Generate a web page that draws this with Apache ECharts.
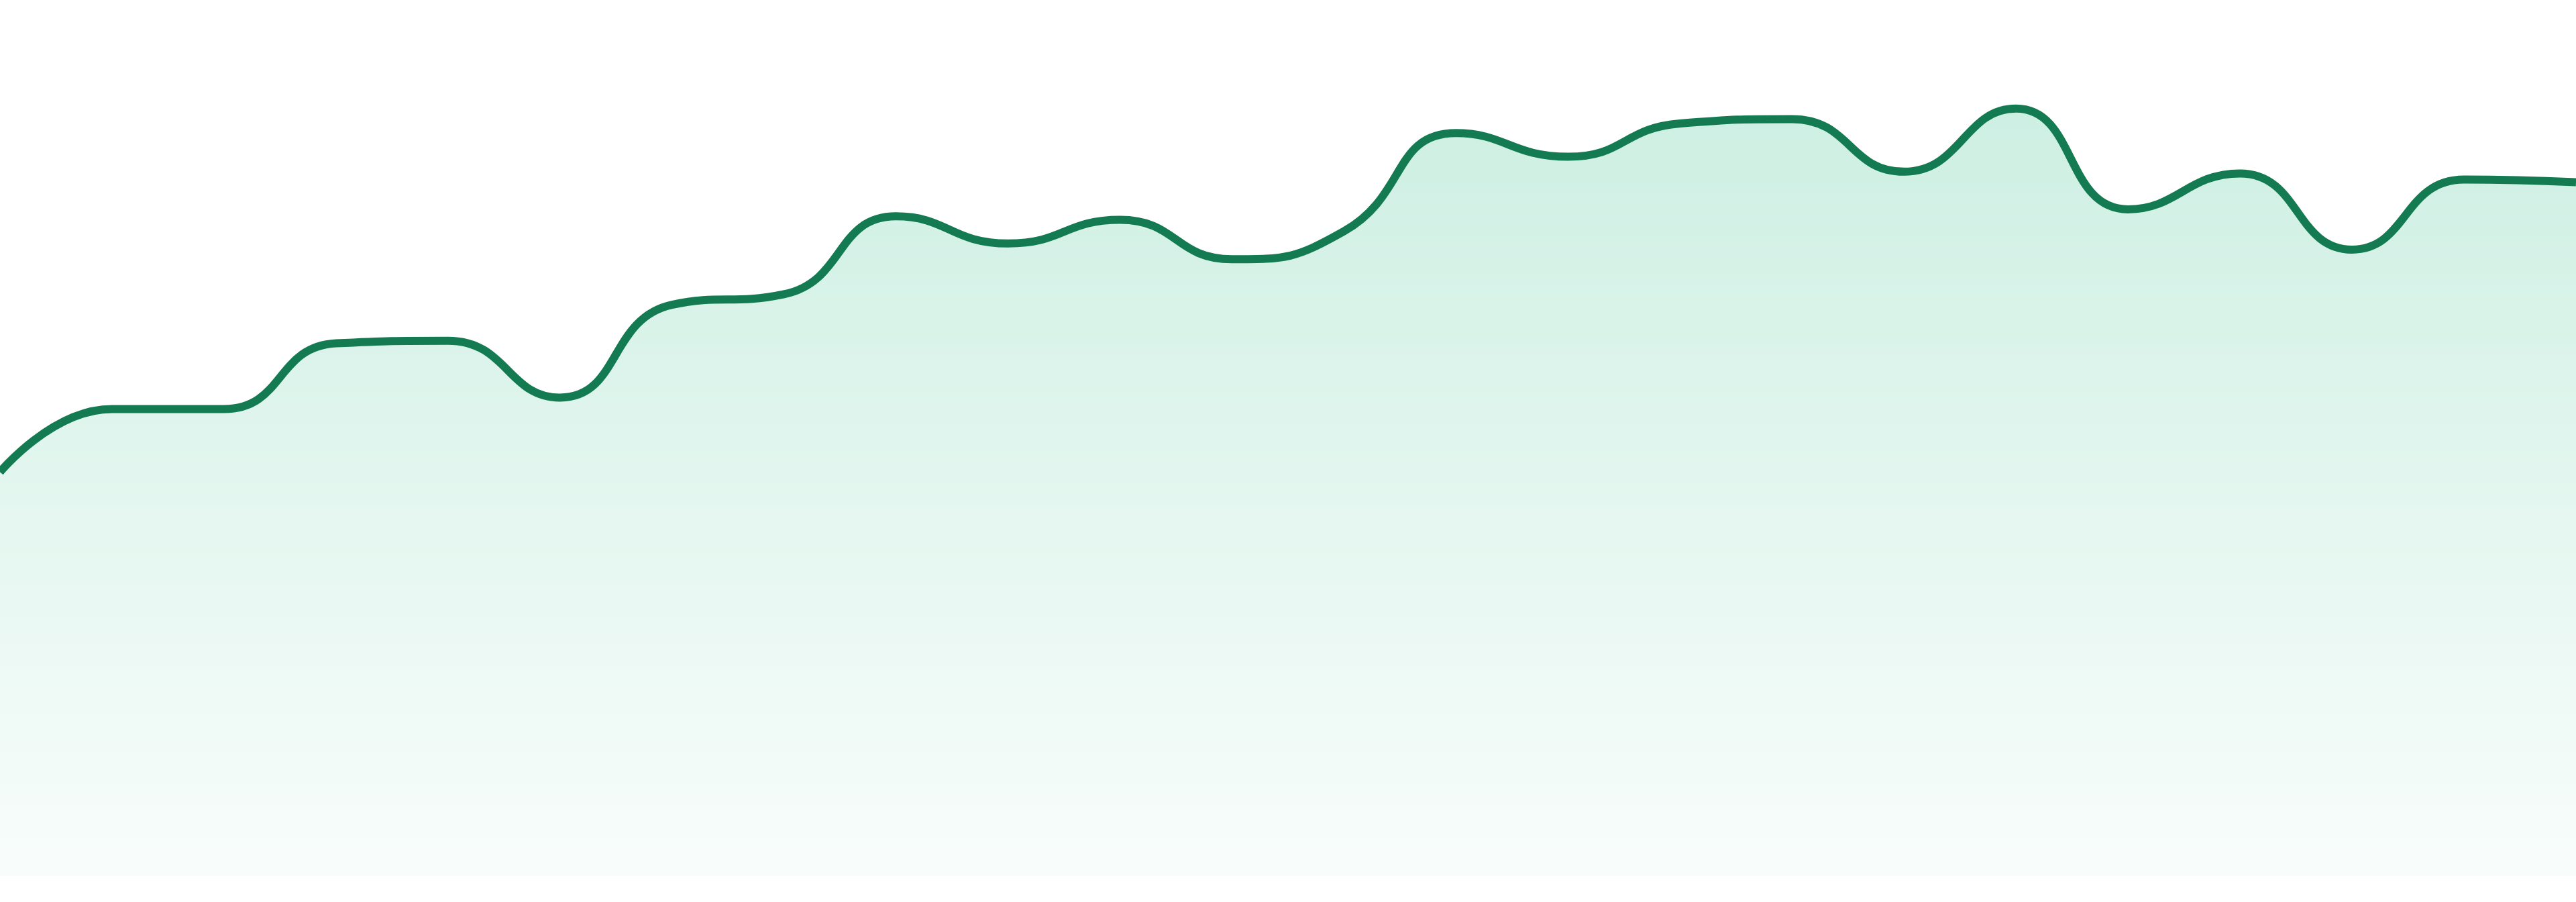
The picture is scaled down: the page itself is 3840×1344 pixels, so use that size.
<!DOCTYPE html>
<html>
<head>
<meta charset="utf-8">
<style>
  html, body { margin: 0; padding: 0; background: #ffffff; width: 100%; height: 100%; overflow: hidden; }
  #chart { width: 100vw; height: 100vh; }
</style>
<script src="https://cdn.jsdelivr.net/npm/echarts@6/dist/echarts.min.js"></script>
</head>
<body>
<div id="chart"></div>
<script>
const categories = ['00:00','01:00','02:00','03:00','04:00','05:00','06:00','07:00','08:00','09:00','10:00','11:00',
                    '12:00','13:00','14:00','15:00','16:00','17:00','18:00','19:00','20:00','21:00','22:00','23:00'];
const values = [46.1, 53.3, 53.3, 60.8, 61.1, 54.6, 65.2, 66.4, 75.3, 72.2, 74.9, 70.4,
                73.6, 84.8, 82.1, 85.9, 86.4, 80.4, 87.6, 76.1, 80.2, 71.5, 79.5, 79.2];
const yMin = 0;
const yMax = 100;

const el = document.getElementById('chart');
const chart = echarts.init(el, null, { renderer: 'canvas' });
chart.setOption({
  animation: false,
  backgroundColor: '#ffffff',
  grid: { left: 0, right: 0, top: 0, bottom: '2.9%' },
  xAxis: {
    type: 'category',
    data: categories,
    boundaryGap: false,
    show: false
  },
  yAxis: {
    type: 'value',
    min: yMin,
    max: yMax,
    show: false
  },
  series: [{
    type: 'line',
    data: values,
    smooth: true,
    showSymbol: false,
    lineStyle: { color: '#137a51', width: 12 },
    itemStyle: { color: '#137a51' },
    areaStyle: {
      color: new echarts.graphic.LinearGradient(0, 0, 0, 1, [
        { offset: 0, color: 'rgba(20,180,120,0.30)' },
        { offset: 1, color: 'rgba(20,180,120,0.04)' }
      ])
    }
  }]
});
window.addEventListener('resize', () => chart.resize());
</script>
</body>
</html>
